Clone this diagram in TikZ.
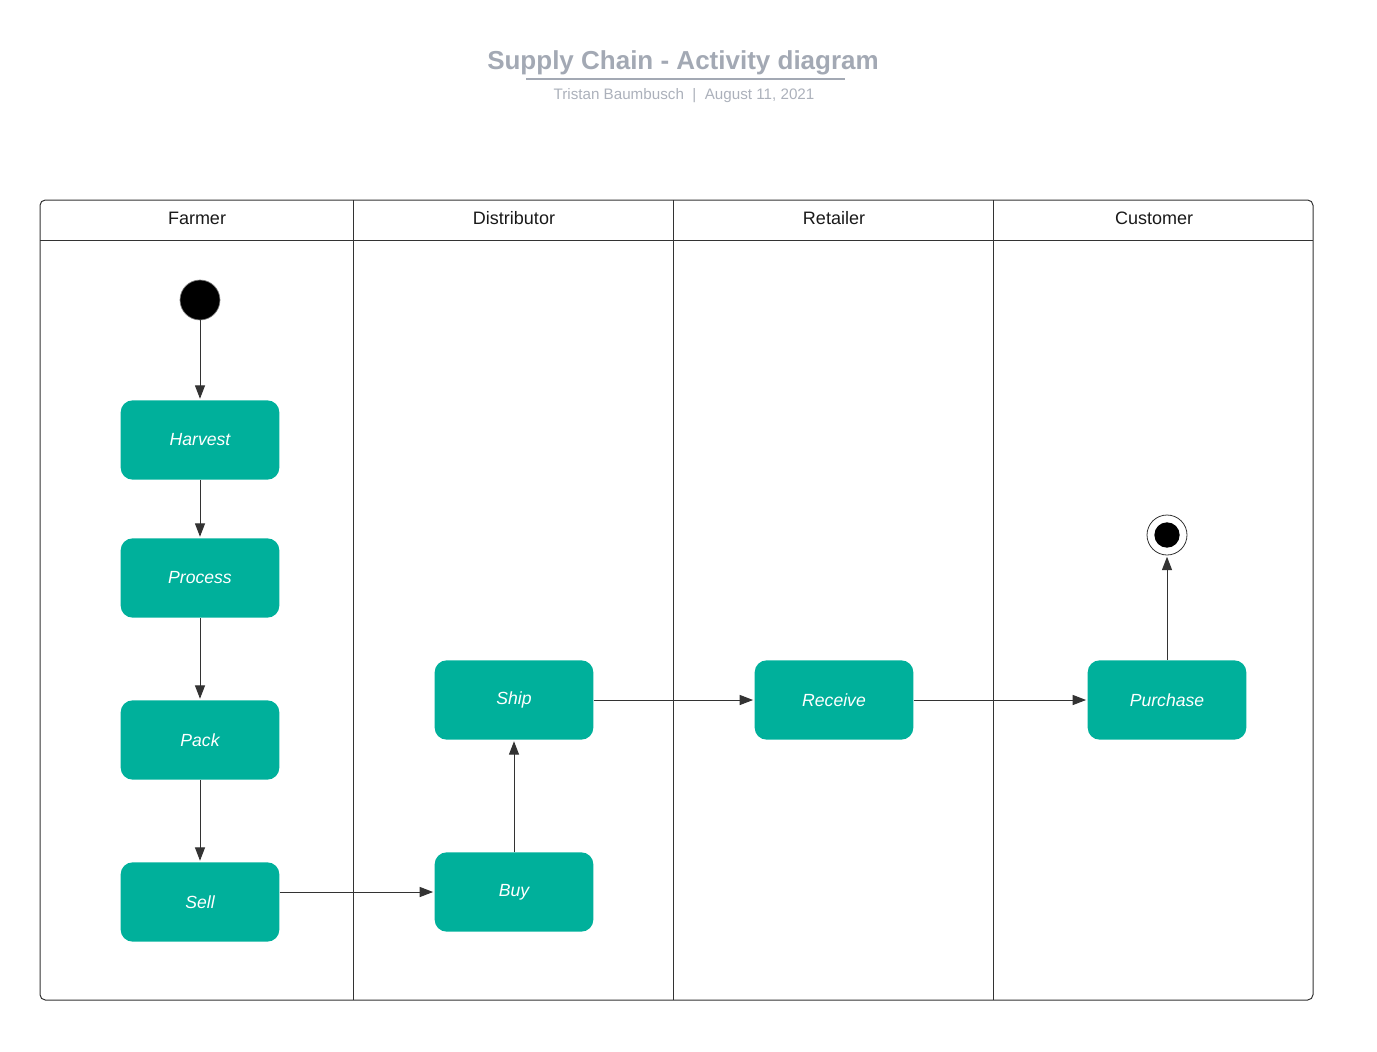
\documentclass[tikz,border=0pt]{standalone}
\usepackage{fontspec}
\setmainfont{Liberation Sans}
\usetikzlibrary{arrows.meta}
\definecolor{actcol}{RGB}{0,176,155}
\definecolor{titlegray}{RGB}{163,169,180}
\definecolor{linegray}{RGB}{51,51,51}
\begin{document}
\begin{tikzpicture}[x=0.75pt,y=-0.75pt,
 activity/.style={fill=actcol,rounded corners=9pt,minimum width=119pt,minimum height=59.5pt,
  text=white,font=\itshape\fontsize{13.2}{16}\selectfont},
 flow/.style={draw=linegray,line width=0.75pt,shorten >=1pt,-{Triangle[length=10pt,width=7.5pt]}},
 lanehead/.style={text=black!90,font=\fontsize{13.5}{16}\selectfont}]

\useasboundingbox (0,0) rectangle (1377,1052);

% title
\node[text=titlegray,font=\bfseries\fontsize{19.5}{23}\selectfont] (title) at (683,63) {Supply Chain - Activity diagram};
\draw[titlegray,line width=1.2pt] (526,79) -- (845,79);
\node[text=titlegray!90,font=\fontsize{11.4}{14}\selectfont] (subtitle) at (684,96) {Tristan Baumbusch \ | \ August 11, 2021};
%
% swimlanes
\draw[linegray,line width=0.75pt,rounded corners=4pt] (40,200) rectangle (1313,1000);
\draw[linegray,line width=0.75pt] (40,240) -- (1313,240);
\foreach \X in {353,673,993}
 {\draw[linegray,line width=0.75pt] (\X,200) -- (\X,1000);}
\node[lanehead] (farmer) at (197,218) {Farmer};
\node[lanehead] (distributor) at (514,218) {Distributor};
\node[lanehead] (retailer) at (834,218) {Retailer};
\node[lanehead] (customer) at (1154,218) {Customer};
%
% activities
\node[circle,fill=black,draw=gray,line width=0.5pt,minimum size=30pt,inner sep=0pt] (start) at (200,300) {};
\node[activity] (harvest) at (200,440) {Harvest};
\node[activity] (process) at (200,578) {Process};
\node[activity] (pack) at (200,740) {Pack};
\node[activity] (sell) at (200,902) {Sell};
\node[activity] (buy) at (514,892) {Buy};
\node[activity] (ship) at (514,700) {Ship};
\node[activity] (receive) at (834,700) {Receive};
\node[activity] (purchase) at (1167,700) {Purchase};
\node[circle,fill=white,draw=linegray,line width=0.6pt,minimum size=30pt,inner sep=0pt] (finish) at (1167,535) {};
\node[circle,fill=black,minimum size=19pt,inner sep=0pt] (finishdot) at (finish) {};
%
% flows
\draw[flow] (start) -- (harvest);
\draw[flow] (harvest) -- (process);
\draw[flow] (process) -- (pack);
\draw[flow] (pack) -- (sell);
\draw[flow] (sell.east |- buy.west) -- (buy.west);
\draw[flow] (buy) -- (ship);
\draw[flow] (ship) -- (receive);
\draw[flow] (receive) -- (purchase);
\draw[flow] (purchase) -- (finish);
\end{tikzpicture}
\end{document}
